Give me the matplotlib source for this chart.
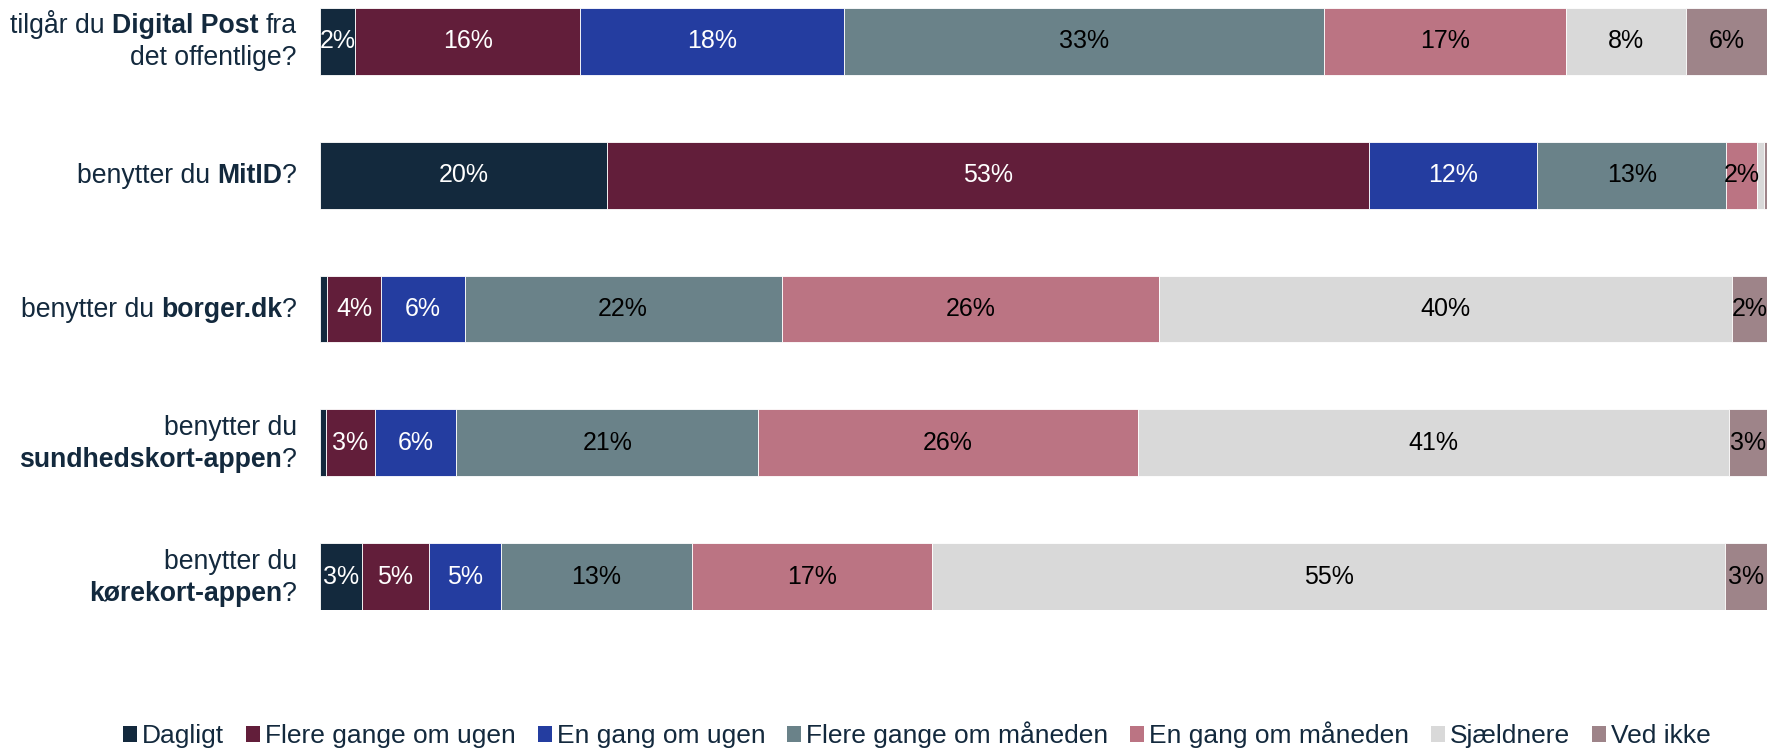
import matplotlib
matplotlib.use("Agg")
import matplotlib.pyplot as plt
from matplotlib.patches import Patch

plt.rcParams['font.family'] = ['Liberation Sans', 'DejaVu Sans']

categories = ["Dagligt", "Flere gange om ugen", "En gang om ugen",
              "Flere gange om måneden", "En gang om måneden", "Sjældnere", "Ved ikke"]
colors = ["#13293D", "#621E3A", "#243DA0", "#6A8289", "#BB7483", "#D9D9D9", "#9E8489"]
text_colors = ["white", "white", "white", "black", "black", "black", "black"]

# questions: list of lines, each a list of (text, bold)
questions = [
    [[("tilgår du ", False), ("Digital Post", True), (" fra", False)],
     [("det offentlige?", False)]],
    [[("benytter du ", False), ("MitID", True), ("?", False)]],
    [[("benytter du ", False), ("borger.dk", True), ("?", False)]],
    [[("benytter du", False)],
     [("sundhedskort-appen", True), ("?", False)]],
    [[("benytter du", False)],
     [("kørekort-appen", True), ("?", False)]],
]

dagligt = [2.4, 19.8, 0.5, 0.4, 2.9]
flere_ugen = [15.6, 52.7, 3.7, 3.4, 4.6]
en_ugen = [18.2, 11.6, 5.8, 5.6, 5.0]
flere_maaned = [33.2, 13.1, 21.9, 20.9, 13.2]
en_maaned = [16.7, 2.1, 26.1, 26.2, 16.6]
sjaeldnere = [8.3, 0.5, 39.6, 40.9, 54.8]
ved_ikke = [5.6, 0.2, 2.4, 2.6, 2.9]
series = [dagligt, flere_ugen, en_ugen, flere_maaned, en_maaned, sjaeldnere, ved_ikke]

W, H = 1768, 748
fig = plt.figure(figsize=(W / 100, H / 100), dpi=100)
ax_left, ax_right = 320 / W, 1767 / W
ax_top, ax_bot = 1 - 8 / H, 1 - 610 / H
ax = fig.add_axes([ax_left, ax_bot, ax_right - ax_left, ax_top - ax_bot])

n = len(questions)
ypos = list(range(n))
bar_h = 0.5
lefts = [0.0] * n
for vals, col, tcol in zip(series, colors, text_colors):
    ax.barh(ypos, vals, left=lefts, height=bar_h, color=col,
            edgecolor="white", linewidth=0.6)
    for i, v in enumerate(vals):
        if v >= 1.5:
            ax.text(lefts[i] + v / 2, ypos[i], f"{round(v)}%", ha="center",
                    va="center", color=tcol, fontsize=18)
    lefts = [l + v for l, v in zip(lefts, vals)]

ax.set_xlim(0, 100)
ax.set_ylim(n - 1 + bar_h / 2, -bar_h / 2)
ax.axis("off")

# rich y labels
fig.canvas.draw()
renderer = fig.canvas.get_renderer()
label_color = "#13293D"
fs = 19.2


def text_w(s, bold):
    t = fig.text(0, 0, s, fontsize=fs, fontweight="bold" if bold else "normal")
    w = t.get_window_extent(renderer).width
    t.remove()
    return w


space_w = {b: text_w("x x", b) - text_w("xx", b) for b in (False, True)}
xright = 297
line_gap = 32
baseline_off = 8
for i, lines in enumerate(questions):
    yc_disp = ax.transData.transform((0, ypos[i]))[1]
    nl = len(lines)
    for j, pieces in enumerate(lines):
        offset = (j - (nl - 1) / 2) * line_gap
        yb = yc_disp - offset - baseline_off
        x = xright
        for txt, bold in reversed(pieces):
            trail = len(txt) - len(txt.rstrip(" "))
            lead = len(txt) - len(txt.lstrip(" "))
            x -= trail * space_w[bold]
            t = fig.text(x / W, yb / H, txt.strip(), ha="right", va="baseline",
                         fontsize=fs, fontweight="bold" if bold else "normal",
                         color=label_color)
            bb = t.get_window_extent(renderer)
            x = bb.x0 - lead * space_w[bold]

handles = [Patch(facecolor=c, edgecolor="none") for c in colors]
leg = fig.legend(handles, categories, loc="center left",
                 bbox_to_anchor=(123 / W, 1 - 735 / H), ncol=7, frameon=False,
                 fontsize=19, handlelength=0.53, handleheight=0.53,
                 handletextpad=0.19, columnspacing=0.83, borderpad=0,
                 borderaxespad=0)
for t in leg.get_texts():
    t.set_color(label_color)

fig.savefig("out.png", dpi=100)
